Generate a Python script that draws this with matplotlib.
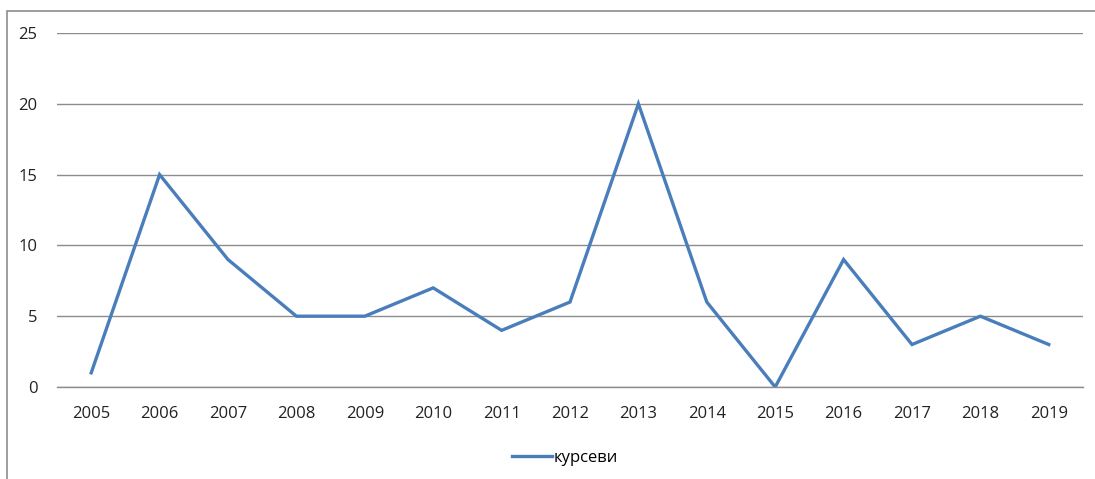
import matplotlib.pyplot as plt
from matplotlib.patches import Rectangle

# Data
years = ['2005', '2006', '2007', '2008', '2009', '2010', '2011', '2012',
         '2013', '2014', '2015', '2016', '2017', '2018', '2019']
courses = [1, 15, 9, 5, 5, 7, 4, 6, 20, 6, 0, 9, 3, 5, 3]
series_name = 'курсеви'

plt.rcParams['font.family'] = ['Open Sans', 'DejaVu Sans']

W, H = 1095, 479
fig = plt.figure(figsize=(W / 100, H / 100), dpi=100)
ax = fig.add_axes([57 / W, 1 - 387 / H, (1083 - 57) / W, (387 - 33) / H])

x = list(range(len(years)))
line, = ax.plot(x, courses, color='#4a7ebb', linewidth=2.4, label=series_name,
                solid_joinstyle='miter')

ax.set_xlim(-0.5, len(years) - 0.5)
ax.set_ylim(0, 25)
ax.set_yticks([0, 5, 10, 15, 20, 25])
ax.set_xticks(x)
ax.set_xticklabels(years)
ax.yaxis.grid(True, color='#8c8c8c', linewidth=1.0)
ax.set_axisbelow(True)
for s in ['top', 'right', 'left']:
    ax.spines[s].set_visible(False)
ax.spines['bottom'].set_color('#8c8c8c')
ax.spines['bottom'].set_linewidth(1.0)
ax.tick_params(axis='both', length=0, labelsize=12, colors='#222222')
ax.tick_params(axis='x', pad=14)
ax.tick_params(axis='y', pad=14)

fig.legend(handles=[line], labels=[series_name], loc='center',
           bbox_to_anchor=(565 / W, 1 - 458 / H), frameon=False,
           fontsize=12, handlelength=2.4, handletextpad=0.1)

# outer chart border (Excel-style frame)
fig.patches.append(Rectangle((7 / W, -0.1), 1.2, 1 - 11 / H + 0.1,
                             transform=fig.transFigure, fill=False,
                             edgecolor='#8c8c8c', linewidth=1.2))

fig.savefig('out.png', dpi=100)
